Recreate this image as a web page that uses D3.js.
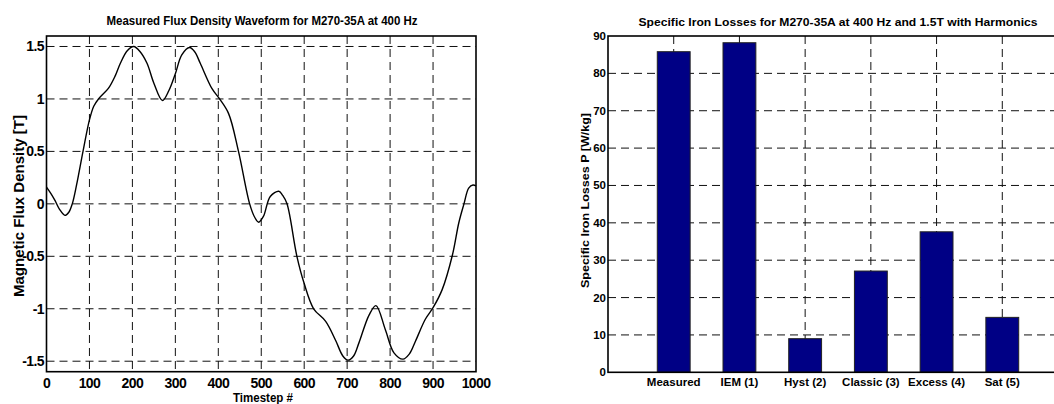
<!DOCTYPE html>
<html>
<head>
<meta charset="utf-8">
<script src="https://cdn.jsdelivr.net/npm/d3@7"></script>
<style>
  body { margin: 0; background: #fff; }
  svg { display: block; }
  text { font-family: "Liberation Sans", Arial, sans-serif; font-weight: bold; fill: #000; }
</style>
</head>
<body>
<div id="chart"></div>
<script>
// waveform
const timestep = [0, 10, 20, 30, 43, 52, 60, 70, 85, 100, 110, 121, 144, 160, 172, 188, 203, 218, 234, 250,
  270, 285, 300, 315, 333, 345, 358, 385, 403, 424, 447, 473, 485, 494, 505, 521, 541, 550, 560, 583,
  600, 622, 650, 673, 690, 702, 715, 727, 751, 767, 789, 809, 830, 845, 859, 882, 900, 921, 945, 960,
  972, 983, 993, 1000]
const flux = [0.16, 0.10, 0.03, -0.05, -0.11, -0.08, 0.0, 0.18, 0.50, 0.80, 0.93, 1.0, 1.10, 1.22, 1.34, 1.46, 1.50, 1.45, 1.34, 1.15,
  0.985, 1.08, 1.24, 1.42, 1.49, 1.45, 1.34, 1.10, 1.0, 0.86, 0.50, 0.0, -0.13, -0.175, -0.12, 0.07, 0.12, 0.08, 0.0, -0.50,
  -0.76, -1.0, -1.12, -1.30, -1.45, -1.49, -1.45, -1.33, -1.06, -0.97, -1.2, -1.42, -1.48, -1.43, -1.31, -1.10, -0.99, -0.82, -0.49, -0.18,
  0.0, 0.15, 0.18, 0.17]
const stepTicks = [0, 100, 200, 300, 400, 500, 600, 700, 800, 900, 1000]
const fluxTicks = [-1.5, -1, -0.5, 0, 0.5, 1, 1.5]

// losses bar chart
const lossLabels = ['Measured', 'IEM (1)', 'Hyst (2)', 'Classic (3)', 'Excess (4)', 'Sat (5)']
const lossValues = [85.8, 88.2, 9.0, 27.1, 37.6, 14.7]
const lossTicks = [0, 10, 20, 30, 40, 50, 60, 70, 80, 90]

const W = 1054, H = 404
const LEFT = { x0: 46.5, x1: 476, y0: 36, y1: 371.7 }
const RIGHT = { x0: 608, x1: 1068, y0: 36, y1: 372.3 }
const DASH = '8,5'

const svg = d3.select('#chart').append('svg')
  .attr('width', W)
  .attr('height', H)

// ---------- left: waveform ----------
const x = d3.scaleLinear().domain([0, 1000]).range([LEFT.x0, LEFT.x1])
const y = d3.scaleLinear().domain([-1.6, 1.6]).range([LEFT.y1, LEFT.y0])

const gl = svg.append('g')

gl.selectAll('.vgrid')
  .data(stepTicks.slice(1, -1))
  .enter().append('line')
    .attr('x1', d => x(d)).attr('x2', d => x(d))
    .attr('y1', LEFT.y0).attr('y2', LEFT.y1)
    .attr('stroke', '#111').attr('stroke-width', 1)
    .attr('stroke-dasharray', DASH)

gl.selectAll('.hgrid')
  .data(fluxTicks)
  .enter().append('line')
    .attr('x1', LEFT.x0).attr('x2', LEFT.x1)
    .attr('y1', d => y(d)).attr('y2', d => y(d))
    .attr('stroke', '#111').attr('stroke-width', 1)
    .attr('stroke-dasharray', DASH)

const line = d3.line()
  .x((d, i) => x(timestep[i]))
  .y(d => y(d))
  .curve(d3.curveCatmullRom.alpha(0.5))

gl.append('path')
  .datum(flux)
  .attr('d', line)
  .attr('fill', 'none')
  .attr('stroke', '#000')
  .attr('stroke-width', 1.4)

gl.append('rect')
  .attr('x', LEFT.x0).attr('y', LEFT.y0)
  .attr('width', LEFT.x1 - LEFT.x0).attr('height', LEFT.y1 - LEFT.y0)
  .attr('fill', 'none').attr('stroke', '#000').attr('stroke-width', 1.6)

gl.selectAll('.xlab')
  .data(stepTicks)
  .enter().append('text')
    .attr('x', d => x(d))
    .attr('y', 387.5)
    .attr('text-anchor', 'middle')
    .attr('font-size', 14)
    .attr('letter-spacing', -0.6)
    .text(d => d)

gl.selectAll('.ylab')
  .data(fluxTicks)
  .enter().append('text')
    .attr('x', 44)
    .attr('y', d => y(d) + 5)
    .attr('text-anchor', 'end')
    .attr('font-size', 14)
    .attr('letter-spacing', -0.6)
    .text(d => d)

gl.append('text')
  .attr('x', 262).attr('y', 24.5)
  .attr('text-anchor', 'middle')
  .attr('font-size', 13)
  .attr('textLength', 311).attr('lengthAdjust', 'spacingAndGlyphs')
  .text('Measured Flux Density Waveform for M270-35A at 400 Hz')

gl.append('text')
  .attr('x', 263).attr('y', 401.5)
  .attr('text-anchor', 'middle')
  .attr('font-size', 12)
  .attr('textLength', 60).attr('lengthAdjust', 'spacingAndGlyphs')
  .text('Timestep #')

gl.append('text')
  .attr('transform', 'translate(24, 206) rotate(-90)')
  .attr('text-anchor', 'middle')
  .attr('font-size', 14)
  .attr('textLength', 182).attr('lengthAdjust', 'spacingAndGlyphs')
  .text('Magnetic Flux Density [T]')

// ---------- right: losses ----------
const xb = d3.scaleLinear().domain([0, 7]).range([RIGHT.x0, RIGHT.x1])
const yb = d3.scaleLinear().domain([0, 90]).range([RIGHT.y1, RIGHT.y0])
const barW = xb(0.5) - xb(0)

const gr = svg.append('g')

gr.selectAll('.vgrid')
  .data(lossLabels)
  .enter().append('line')
    .attr('x1', (d, i) => xb(i + 1)).attr('x2', (d, i) => xb(i + 1))
    .attr('y1', RIGHT.y0).attr('y2', RIGHT.y1)
    .attr('stroke', '#111').attr('stroke-width', 1)
    .attr('stroke-dasharray', DASH)

gr.selectAll('.hgrid')
  .data(lossTicks.slice(1, -1))
  .enter().append('line')
    .attr('x1', RIGHT.x0).attr('x2', RIGHT.x1)
    .attr('y1', d => yb(d)).attr('y2', d => yb(d))
    .attr('stroke', '#111').attr('stroke-width', 1)
    .attr('stroke-dasharray', DASH)

gr.selectAll('rect.bar')
  .data(lossValues)
  .enter().append('rect')
    .attr('class', 'bar')
    .attr('x', (d, i) => xb(i + 1) - barW / 2)
    .attr('y', d => yb(d))
    .attr('width', barW)
    .attr('height', d => RIGHT.y1 - yb(d))
    .attr('fill', '#000085')
    .attr('stroke', '#222')
    .attr('stroke-width', 1)

gr.append('rect')
  .attr('x', RIGHT.x0).attr('y', RIGHT.y0)
  .attr('width', RIGHT.x1 - RIGHT.x0).attr('height', RIGHT.y1 - RIGHT.y0)
  .attr('fill', 'none').attr('stroke', '#000').attr('stroke-width', 1.6)

gr.selectAll('.xlab')
  .data(lossLabels)
  .enter().append('text')
    .attr('x', (d, i) => xb(i + 1))
    .attr('y', 386)
    .attr('text-anchor', 'middle')
    .attr('font-size', 11.5)
    .text(d => d)

gr.selectAll('.ylab')
  .data(lossTicks)
  .enter().append('text')
    .attr('x', 606)
    .attr('y', d => yb(d) + 4)
    .attr('text-anchor', 'end')
    .attr('font-size', 11.5)
    .text(d => d)

gr.append('text')
  .attr('x', 838).attr('y', 26)
  .attr('text-anchor', 'middle')
  .attr('font-size', 11)
  .attr('textLength', 399).attr('lengthAdjust', 'spacingAndGlyphs')
  .text('Specific Iron Losses for M270-35A at 400 Hz and 1.5T with Harmonics')

gr.append('text')
  .attr('transform', 'translate(589, 200.5) rotate(-90)')
  .attr('text-anchor', 'middle')
  .attr('font-size', 11)
  .attr('textLength', 175).attr('lengthAdjust', 'spacingAndGlyphs')
  .text('Specific Iron Losses P [W/kg]')
</script>
</body>
</html>
